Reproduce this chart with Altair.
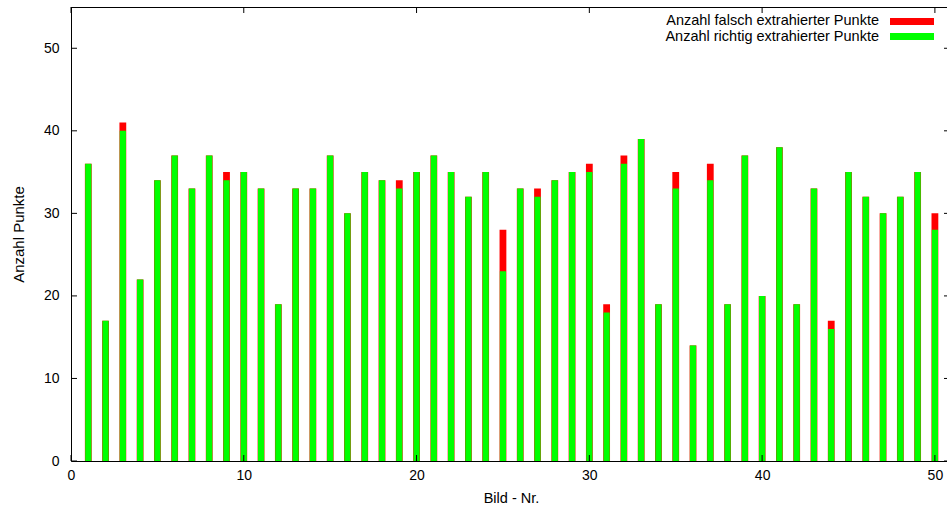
import altair as alt
import pandas as pd

# Bild-Nummern und Anzahl der extrahierten Punkte je Bild
bild_nr = list(range(1, 51))
richtig = [36, 17, 40, 22, 34, 37, 33, 37, 34, 35,
           33, 19, 33, 33, 37, 30, 35, 34, 33, 35,
           37, 35, 32, 35, 23, 33, 32, 34, 35, 35,
           18, 36, 39, 19, 33, 14, 34, 19, 37, 20,
           38, 19, 33, 16, 35, 32, 30, 32, 35, 28]
falsch = [0, 0, 1, 0, 0, 0, 0, 0, 1, 0,
          0, 0, 0, 0, 0, 0, 0, 0, 1, 0,
          0, 0, 0, 0, 5, 0, 1, 0, 0, 1,
          1, 1, 0, 0, 2, 0, 2, 0, 0, 0,
          0, 0, 0, 1, 0, 0, 0, 0, 0, 2]

x_ticks = [0, 10, 20, 30, 40, 50]
y_ticks = [0, 10, 20, 30, 40, 50]

label_falsch = "Anzahl falsch extrahierter Punkte"
label_richtig = "Anzahl richtig extrahierter Punkte"

ROT = "#ff0000"
GRUEN = "#00ff00"
FONT = "Liberation Sans"

W, H = 876, 454

df = pd.DataFrame({"nr": bild_nr, "richtig": richtig, "falsch": falsch})
df["gesamt"] = df["richtig"] + df["falsch"]

xscale = alt.Scale(domain=[0, 50.7], nice=False, zero=False, padding=0)
yscale = alt.Scale(domain=[0, 55], nice=False, padding=0)

x_axis = alt.Axis(values=x_ticks, ticks=False, grid=False, domain=True,
                  domainColor="black", domainWidth=1, labelFontSize=14,
                  labelColor="black", labelFont=FONT, labelPadding=7,
                  labelFlush=False, format="d",
                  title="Bild - Nr.", titleFont=FONT, titleFontSize=14.5,
                  titleFontWeight="normal", titleColor="black",
                  titleX=440, titleY=37, titleBaseline="middle")
y_axis = alt.Axis(values=y_ticks, ticks=False, grid=False, domain=True,
                  domainColor="black", domainWidth=1, labelFontSize=14,
                  labelColor="black", labelFont=FONT, labelPadding=12,
                  format="d",
                  title="Anzahl Punkte", titleFont=FONT, titleFontSize=15,
                  titleFontWeight="normal", titleColor="black",
                  titleX=-53, titleY=H / 2, titleAlign="center",
                  titleBaseline="middle")

# Gesamtzahl (rot) hinter der Anzahl richtig extrahierter Punkte (gruen)
rot = alt.Chart(df).mark_bar(color=ROT, size=6.8).encode(
    x=alt.X("nr:Q", scale=xscale, axis=x_axis),
    y=alt.Y("gesamt:Q", scale=yscale, axis=y_axis),
)
gruen = alt.Chart(df).mark_bar(color=GRUEN, size=6.2).encode(
    x=alt.X("nr:Q", scale=xscale, axis=x_axis),
    y=alt.Y("richtig:Q", scale=yscale, axis=y_axis),
)

# nach innen zeigende Teilstriche, auch oben und rechts gespiegelt
xt = pd.DataFrame({"t": x_ticks})
yt = pd.DataFrame({"t": y_ticks})
tick_style = dict(color="black", strokeWidth=1)
x_unten = alt.Chart(xt).mark_rule(**tick_style).encode(
    x=alt.X("t:Q", scale=xscale, axis=x_axis), y=alt.value(H), y2=alt.value(H - 6))
x_oben = alt.Chart(xt).mark_rule(**tick_style).encode(
    x=alt.X("t:Q", scale=xscale, axis=x_axis), y=alt.value(0), y2=alt.value(6))
y_links = alt.Chart(yt).mark_rule(**tick_style).encode(
    y=alt.Y("t:Q", scale=yscale, axis=y_axis), x=alt.value(0), x2=alt.value(6))
y_rechts = alt.Chart(yt).mark_rule(**tick_style).encode(
    y=alt.Y("t:Q", scale=yscale, axis=y_axis), x=alt.value(W - 3), x2=alt.value(W))

rahmen_oben = alt.Chart(pd.DataFrame({"k": [0]})).mark_rule(color="black", strokeWidth=1).encode(
    x=alt.value(0), x2=alt.value(W), y=alt.value(0.5))

# Legende oben rechts
leg = pd.DataFrame({"label": [label_falsch, label_richtig]})
text_style = dict(align="right", baseline="middle", font=FONT, fontSize=14.5, color="black")
leg_text_1 = alt.Chart(leg.iloc[[0]]).mark_text(**text_style).encode(
    text="label:N", x=alt.value(808), y=alt.value(14))
leg_text_2 = alt.Chart(leg.iloc[[1]]).mark_text(**text_style).encode(
    text="label:N", x=alt.value(808), y=alt.value(30))
leg_rot = alt.Chart(leg.iloc[[0]]).mark_rect(color=ROT).encode(
    x=alt.value(819), x2=alt.value(863), y=alt.value(11), y2=alt.value(18))
leg_gruen = alt.Chart(leg.iloc[[1]]).mark_rect(color=GRUEN).encode(
    x=alt.value(819), x2=alt.value(863), y=alt.value(26), y2=alt.value(33))

chart = alt.layer(
    rot, gruen, x_unten, x_oben, y_links, y_rechts, rahmen_oben,
    leg_rot, leg_gruen, leg_text_1, leg_text_2,
).properties(
    width=W, height=H,
    autosize=alt.AutoSizeParams(type="none"),
    padding={"left": 71, "top": 7, "right": 0, "bottom": 46},
    background="white",
).configure_view(stroke=None)

chart.save("out.html", embed_options={"renderer": "svg", "actions": False})
